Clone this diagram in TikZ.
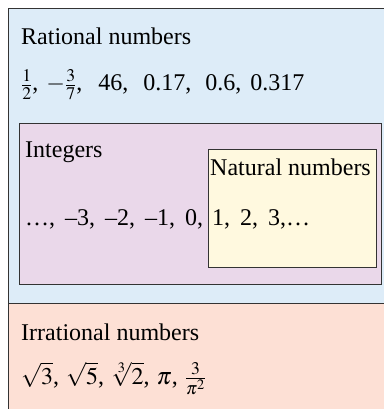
\documentclass[tikz,border=0pt]{standalone}
\usepackage{mathptmx}
\usepackage{fontspec}
\setmainfont{Liberation Serif}
\definecolor{ratblue}{HTML}{DDECF8}
\definecolor{intpurple}{HTML}{EAD8EA}
\definecolor{natyellow}{HTML}{FFF9DF}
\definecolor{irrsalmon}{HTML}{FDE0D5}
\definecolor{edge}{HTML}{333333}
\tikzset{
  lbl/.style={anchor=base west, inner sep=0pt, font=\fontsize{24}{28}\selectfont},
  boxline/.style={draw=edge, line width=0.9pt}
}
\begin{document}
\begin{tikzpicture}[x=1pt,y=-1pt]
\useasboundingbox (0,0) rectangle (384,409);
\fill[white] (0,0) rectangle (384,409);
\fill[ratblue] (8,8) rectangle (384,303);
\fill[irrsalmon] (8,303) rectangle (384,409);
\draw[boxline] (8,409) -- (8,8) -- (384,8);
\draw[boxline] (8,303) -- (384,303);
\node[boxline, fill=intpurple, minimum width=362pt, minimum height=161pt, anchor=north west, inner sep=0pt] (int) at (19,123) {};
\node[boxline, fill=natyellow, minimum width=168pt, minimum height=118pt, anchor=north west, inner sep=0pt] (nat) at (208,149) {};
\node[lbl] (ratt) at (21,45) {Rational numbers};
\node[lbl] (ratv) at (21,91) {$\frac{1}{2}$,\hspace{8pt}$-\frac{3}{7}$,\hspace{16pt}46,\hspace{15pt}0.17,\hspace{14pt}0.6,\hspace{9pt}0.317};
\node[lbl] (intt) at (25,157) {Integers};
\node[lbl] (natt) at (210,175) {Natural numbers};
\node[lbl] (intv) at (25,225) {\dots,\hspace{10pt}–3,\hspace{10pt}–2,\hspace{10pt}–1,\hspace{10pt}0,};
\node[lbl] (natv) at (212,225) {1,\hspace{10pt}2,\hspace{10pt}3,\dots};
\node[lbl] (irrt) at (21,340) {Irrational numbers};
\node[lbl] (irrv) at (21,384) {$\sqrt{3}$,\hspace{7pt}$\sqrt{5}$,\hspace{7pt}$\sqrt[3]{2}$,\hspace{7pt}$\pi$,\hspace{7pt}$\frac{3}{\pi^2}$};
\end{tikzpicture}
\end{document}
